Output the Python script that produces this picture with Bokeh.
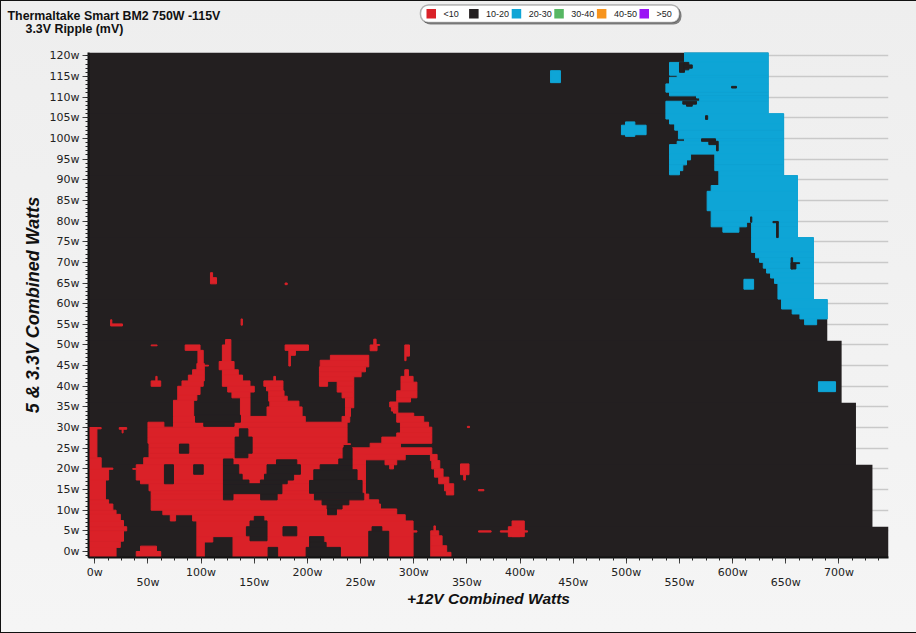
from bokeh.plotting import figure
from bokeh.layouts import column
from bokeh.embed import file_html
from bokeh.resources import INLINE
from bokeh.core.properties import value
from bokeh.models import FixedTicker, LinearAxis, BoxAnnotation, Range1d

title_lines = ["Thermaltake  Smart BM2 750W -115V", "3.3V Ripple (mV)"]
x_label = "+12V Combined Watts"
y_label = "5 & 3.3V Combined Watts"
legend_names = ["<10", "10-20", "20-30", "30-40", "40-50", ">50"]
legend_colors = ["#da2128", "#231f20", "#0ea5d6", "#56b763", "#f7941d", "#9a14f5"]

# (top of band, right limit) of the measured area, in watts
envelope = [(6, 746.6), (21, 731.5), (36, 716), (51, 702.5),
            (61, 689), (76, 676), (91, 661), (106, 648), (120.8, 633.5)]

# every block: (y0, y1, x0, x1) in watts
red_blocks = [
    # left-hand lobe
    (-1.45, 1, -5.93, 20), (1, 2.5, -5.93, 24), (2.5, 5, -5.93, 27), (5, 6, -5.93, 30), (6, 7.5, -5.93, 27),
    (7.5, 9, -5.93, 24), (9, 10, -5.93, 20), (10, 11.5, -5.93, 17), (11.5, 12.5, -5.93, 13), (12.5, 17.3, -5.93, 10),
    (17.3, 20, -5.93, 13), (19.9, 20.2, -5.93, 17), (20, 22.7, -5.93, 6), (22.7, 30, -5.93, 2), (29.7, 30, -5.93, 6),
    (29.6, 30, 23, 30), (28.7, 29.6, 25.7, 26.6),
    (-1.45, 0, 39, 62), (0, 1.3, 43, 58),
    # main body
    (-1.45, 2.3, 96, 103), (2.3, 3.6, 96, 111), (-1.45, 3.6, 130, 299.4), (3.6, 7.4, 96, 299.4),
    (7.4, 8.9, 71, 76), (7.4, 8.9, 92, 292), (8.9, 10, 64, 284), (10, 10.3, 53, 284), (10.3, 11.5, 53, 268.7),
    (11.5, 12.5, 53, 267), (12.5, 13.9, 53, 257.7), (13.9, 14.7, 53, 254.6), (14.7, 16.4, 51, 254.6),
    (16.4, 17.3, 43, 254.6), (17.3, 21, 39, 254.6), (19.9, 20.1, 35.7, 39), (21, 22.7, 46, 254.6), (22.7, 23.8, 51, 254.6),
    (23.8, 25.1, 51, 233.6), (22.2, 23.5, 242, 292), (23.5, 25.1, 242, 317),
    (25.1, 26.2, 51, 233.6), (25.1, 26.2, 259, 287.5), (25.9, 26.1, 233.6, 240.5),
    (26.2, 27.7, 50, 237.3), (26.2, 27.7, 270, 317), (27.7, 28.7, 50, 237.3), (27.7, 28.7, 284, 317),
    (28.7, 30.1, 50, 237.3), (28.7, 30.1, 287.5, 317), (30.1, 31.3, 50, 65), (30.1, 31.3, 74, 237.3),
    (30.1, 31.3, 287.5, 314), (31.3, 32.7, 74, 198), (31.3, 32.7, 232.6, 239.8), (31.3, 32.7, 284, 309.4),
    # arms reaching upward
    (32.7, 36.6, 74, 93), (36.6, 38, 78, 96), (38, 40, 78, 99), (40, 41.3, 82, 102), (41.3, 42.7, 88, 103),
    (42.7, 44, 92, 103), (44, 45.5, 96, 103), (44.9, 45.1, 103, 107), (45.5, 48.7, 97, 102), (48.7, 50, 85, 99),
    (50, 51.3, 123, 128), (46, 50, 120, 128), (44, 46, 117, 131), (42.7, 44, 120, 135), (41.3, 42.7, 120, 139),
    (40, 41.3, 120, 146), (38.6, 40, 125, 150), (37.2, 38.6, 129, 146), (32.7, 37.2, 137, 146),
    (32.7, 35, 162, 195), (35, 36.4, 164.6, 192), (36.4, 37.6, 163.6, 181), (37.6, 38.9, 163.6, 178),
    (38.9, 40, 161.5, 177), (40, 41.3, 159, 177), (41.3, 42.4, 168.4, 170),
    (48.7, 50, 179, 201), (47.5, 48.7, 182.5, 188.7), (44.9, 47.5, 182.5, 184),
    (49.8, 50, 53, 58.6), (40, 41.3, 53, 62), (41.3, 42.4, 57.4, 58.6),
    # upper middle blob
    (46.3, 47.5, 221.6, 257.7), (44.7, 46.3, 212, 257.7), (43.5, 44.7, 211.3, 254.6), (42.3, 43.5, 211.3, 250.5),
    (41.2, 42.3, 211.3, 243.6), (40, 41.2, 211.3, 219), (40, 41.2, 228, 243.6), (38.6, 40, 228, 243.6),
    (37.2, 38.6, 232.6, 243.6), (34.8, 37.2, 235.8, 243.6), (32.7, 34.8, 235.8, 240.5),
    (48.6, 50, 259, 265.5), (50, 51.4, 262.4, 264.6), (49.9, 50.1, 265, 268),
    (47.3, 50, 291.6, 296), (46.2, 47.3, 291.6, 292.8),
    # right strip
    (42.4, 44, 291.6, 295), (41, 42.4, 288, 299.4), (38.9, 41, 288, 303), (37.2, 38.9, 284, 303), (36.2, 37.2, 284, 297),
    (35, 36.2, 277.4, 285), (34, 35, 279, 285), (33.5, 34, 281, 285), (32.7, 33.5, 284, 300),
    (21, 22.2, 273, 284), (20, 21, 277.4, 281),
    (22, 23.5, 315.7, 322), (20, 22, 317, 324.5), (18, 20, 319.5, 327.6), (16.4, 18, 323.5, 333),
    (14.7, 16.4, 329, 337.6), (13.7, 14.7, 330.7, 337.6),
    (18.6, 21.2, 344, 352), (17.3, 18.6, 347, 348.6), (14.7, 15, 361, 366), (30, 30.3, 350.5, 352.5),
    (3.6, 7.4, 392.5, 404), (3.6, 6, 389, 400), (4.7, 5, 381.5, 407), (4.7, 5, 361, 372.8), (4.7, 5, 299.4, 303),
    (-1.45, -0.2, 316, 335), (-0.2, 1.4, 316, 331), (1.4, 3.8, 316, 326.7), (3.8, 5, 316, 323.5), (5, 6.2, 319, 320.4),
    # stray specks higher up
    (54.6, 55.1, 14.9, 26), (55, 56.1, 14.9, 16), (54.8, 56.3, 137.6, 138.8),
    (64.8, 66.3, 108.8, 114.5), (66.2, 67.5, 108.8, 110.8), (64.6, 65, 179, 181),
]

# black islands inside the red body
red_holes = [
    (16.4, 21, 65.5, 74), (18.7, 21, 93, 102), (23.8, 26, 79.6, 88.4),
    (22.7, 23.8, 132, 144), (23.8, 27.7, 132, 148), (27.7, 29.7, 136, 144),
    (12.5, 14, 121, 130), (12.5, 14, 156, 171.5), (14, 16.4, 121, 176), (16.4, 17.3, 121, 145), (16.4, 17.3, 155.8, 181),
    (17.3, 18.7, 121, 138.6), (17.3, 18.7, 159.6, 187), (18.7, 21, 121, 135.4), (18.7, 21, 162, 193.4),
    (21, 22.4, 121, 130), (21, 22.2, 170.9, 190),
    (7.4, 8.5, 150, 159), (6, 7.4, 146, 162), (3.8, 6, 142.6, 162), (2.6, 3.8, 146, 162),
    (3.8, 6, 177, 190), (-1.45, 1, 163, 172),
    (-1.45, 1, 198.8, 231), (1, 2.2, 202, 217.6), (2.2, 3.6, 202, 215.4),
    (-1.45, 4.9, 257.7, 276.5), (4.9, 6, 260.8, 270),
    (19.8, 21, 212, 242), (17.2, 19.8, 206, 246.7), (14.1, 17.2, 202, 251.4), (12.5, 14.1, 206.6, 253),
    (11.3, 12.5, 213.8, 239), (10.3, 11.3, 218.5, 232.6), (8.9, 10.3, 219, 227.3),
    (21, 22.4, 229.5, 242), (22.4, 25.1, 233.6, 242),
    (30.3, 31.3, 102.5, 131), (31.3, 33, 94.7, 137),
]

blue_blocks = [
    (118.4, 120.8, 554.7, 633.5), (115.3, 118.4, 540.6, 633.5), (114.8, 115.3, 547.8, 633.5), (113.2, 114.8, 540.6, 633.5),
    (111.2, 113.2, 537.2, 633.5), (110.3, 111.2, 540.6, 633.5), (109.8, 110.3, 566, 633.5), (109, 109.8, 569, 633.5),
    (106, 109, 537.2, 633.5), (104.7, 106, 537.2, 648), (103.5, 104.7, 540.6, 648), (102, 103.5, 545.5, 648),
    (99.9, 102, 549, 648), (99.3, 99.9, 554.7, 648), (98.5, 99.3, 547.8, 648), (96.2, 98.5, 540.6, 648),
    (94.8, 96.2, 540.6, 560.4), (94.8, 96.2, 583.2, 648), (93.6, 94.8, 540.6, 556.6), (93.6, 94.8, 583.2, 648),
    (92.2, 93.6, 540.6, 553.1), (92.2, 93.6, 583.2, 648), (91.2, 92.2, 540.6, 550), (91, 92.2, 587, 648),
    (88.6, 91, 587, 661), (87.2, 88.6, 579.8, 661), (82.5, 87.2, 576, 661), (79.7, 82.5, 579.8, 661),
    (78.6, 79.7, 579.8, 613.1), (78.6, 79.7, 617.8, 661), (77.3, 78.6, 590.8, 605.9), (76, 78.6, 617.8, 661),
    (72.4, 76, 617.8, 676), (71.1, 72.4, 621.6, 676), (70, 71.1, 625.3, 676), (68.6, 70, 628.8, 676),
    (67.4, 68.6, 631.9, 676), (66.2, 67.4, 635.7, 676), (64.9, 66.2, 639.4, 676), (61.1, 64.9, 642.6, 676),
    (61, 61.1, 646, 676), (58.7, 61, 646, 689), (57.5, 58.7, 656, 689), (56.3, 57.5, 663.3, 689),
    (54.9, 56.3, 667.7, 679),
    # isolated patches
    (100.9, 103.2, 495.4, 518.6), (100.5, 104, 499.2, 508), (113.5, 116.4, 428.7, 438),
    (63.5, 65.9, 610.6, 619.7), (38.7, 41.1, 680.7, 696.8),
]

blue_holes = [
    (116, 118.4, 550, 554.7), (117.8, 118.4, 554.7, 558.8), (117, 117.8, 554.7, 562), (116.6, 117, 554.7, 558.8),
    (108.3, 109, 553.1, 566), (107.8, 108.3, 556.6, 562), (112.2, 112.6, 599, 603.6), (104.6, 105.5, 574.5, 576.5),
    (99.3, 99.9, 570.7, 583.9), (98.5, 99.3, 577.6, 586.4), (97, 98.5, 584.8, 586.4),
    (76, 79.7, 641.3, 642.9), (79.6, 79.9, 637.9, 642.9), (79.7, 81, 616.8, 618),
    (68.4, 71.1, 655, 656.4), (68.4, 69.8, 655, 659.5), (69.7, 69.9, 655, 663),
]

x_major = [i * 50 for i in range(15)]
x_minor = [i * 12.5 for i in range(60)]
y_major = [i * 5 for i in range(25)]
y_minor = [i for i in range(-1, 121)]
x_even = {t: (f"{t}w" if t % 100 == 0 else "") for t in x_major}
x_odd = {t: f"{t}w" for t in x_major if t % 100 == 50}

TXT = "#222222"

# ---- header strip: titles and legend
h = figure(width=916, height=40, output_backend="svg", toolbar_location=None,
           x_range=Range1d(0, 916), y_range=Range1d(40, 0), min_border=0,
           background_fill_color=None, border_fill_color=None, outline_line_color=None)
h.frame_align = False
h.axis.visible = False
h.grid.visible = False
h.add_layout(BoxAnnotation(left=422, right=681, top=6.5, bottom=24, fill_color="#808080", fill_alpha=1,
                           line_color=None, border_radius=8, level="underlay"))
h.add_layout(BoxAnnotation(left=420, right=679, top=4.5, bottom=22, fill_color="#ffffff", fill_alpha=1,
                           line_color="#111111", line_width=1.5, border_radius=8, level="underlay"))
swatch_x = [426 + 42.6 * i for i in range(len(legend_names))]
h.quad(left=swatch_x, right=[s + 9.5 for s in swatch_x], top=[8.5] * 6, bottom=[18] * 6,
       fill_color=legend_colors, line_color=None)
h.text(x=[s + 17 for s in swatch_x], y=[13.5] * 6,
       text=legend_names, text_font=value("Liberation Sans"), text_font_size="9px", text_color=TXT,
       text_align="left", text_baseline="middle")
h.text(x=[7, 25], y=[15, 28], text=title_lines, text_font=value("Liberation Sans"), text_font_style="bold",
       text_font_size="12.4px", text_color="#111111", text_align="left", text_baseline="alphabetic")

# ---- main chart
p = figure(width=916, height=593, output_backend="svg", toolbar_location=None,
           x_range=Range1d(-5.93, 746.6), y_range=Range1d(-1.45, 120.8),
           min_border_left=88, min_border_right=28, min_border_top=12, min_border_bottom=76,
           background_fill_color=None, border_fill_color=None, outline_line_color=None)
p.frame_align = False

p.xaxis.ticker = FixedTicker(ticks=x_major, minor_ticks=x_minor)
p.xaxis.major_label_overrides = x_even
p.yaxis.ticker = FixedTicker(ticks=y_major, minor_ticks=y_minor)
p.yaxis.major_label_overrides = {t: f"{t}w" for t in y_major}
p.xgrid.visible = False
p.ygrid.ticker = FixedTicker(ticks=y_major)
p.ygrid.grid_line_color = "#c9c9c9"
p.ygrid.grid_line_width = 1.5

for ax in (p.xaxis[0], p.yaxis[0]):
    ax.axis_line_color = "#111111"
    ax.axis_line_width = 2
    ax.major_tick_line_color = "#444444"
    ax.minor_tick_line_color = "#222222"
    ax.major_tick_out = 6
    ax.major_tick_in = 0
    ax.minor_tick_out = 3
    ax.minor_tick_in = 0
    ax.major_label_text_font = "DejaVu Sans"
    ax.major_label_text_font_size = "11px"
    ax.major_label_text_color = TXT
p.xaxis.major_label_standoff = 2
p.yaxis.major_label_standoff = 3
p.yaxis.axis_label = y_label
p.yaxis.axis_label_text_font = "Liberation Sans"
p.yaxis.axis_label_text_font_style = "bold italic"
p.yaxis.axis_label_text_font_size = "18px"
p.yaxis.axis_label_text_color = "#111111"
p.yaxis.axis_label_standoff = 4

ax2 = LinearAxis(ticker=FixedTicker(ticks=sorted(x_odd)), major_label_overrides=x_odd,
                 axis_line_color=None, major_tick_line_color=None, minor_tick_line_color=None,
                 major_label_text_font="DejaVu Sans", major_label_text_font_size="11px",
                 major_label_text_color=TXT, major_label_standoff=-6,
                 major_tick_out=0, major_tick_in=0, minor_tick_out=0,
                 axis_label=x_label, axis_label_text_font="Liberation Sans",
                 axis_label_text_font_style="bold italic", axis_label_text_font_size="15.5px",
                 axis_label_text_color="#111111", axis_label_standoff=-2)
p.add_layout(ax2, "below")


def draw(blocks, color):
    return p.quad(bottom=[b[0] for b in blocks], top=[b[1] for b in blocks],
                  left=[b[2] for b in blocks], right=[b[3] for b in blocks],
                  fill_color=color, line_color=color, line_width=1)


# nested from the tallest band down, so that no seam shows between the bands
for top, right in sorted(envelope, key=lambda e: -e[0]):
    p.quad(bottom=[-1.45], top=[top], left=[-5.93], right=[right], fill_color=legend_colors[1], line_color=None)
draw(red_blocks, legend_colors[0])
draw(red_holes, legend_colors[1])
draw(blue_blocks, legend_colors[2])
draw(blue_holes, legend_colors[1])

page = column(h, p, spacing=0, styles={
    "background": "linear-gradient(#eeeeee,#f5f5f5)",
    "box-shadow": "inset 1px 1px 0 #111111, inset 0 -1px 0 #111111",
})
open("out.html", "w").write(file_html(page, INLINE))
